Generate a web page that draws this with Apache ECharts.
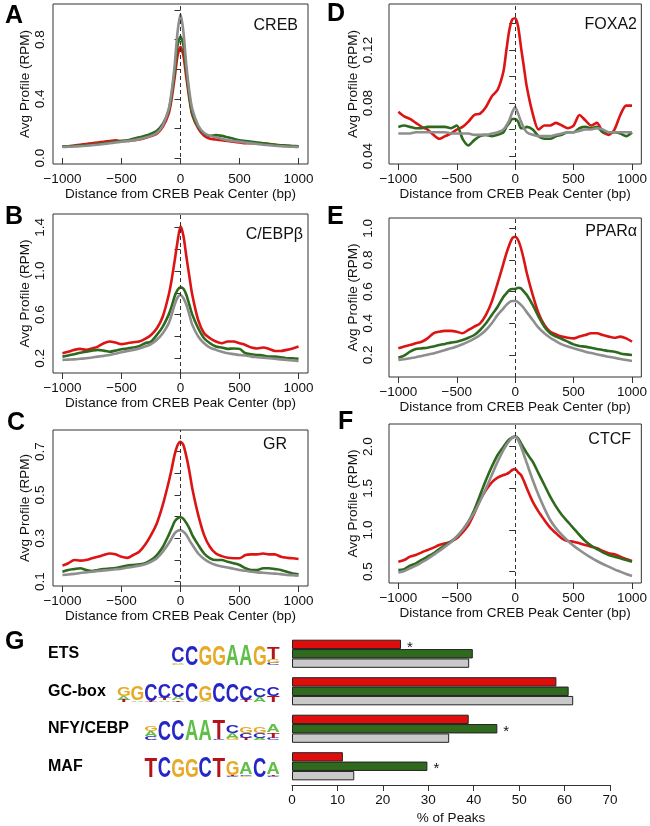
<!DOCTYPE html>
<html><head><meta charset="utf-8">
<script src="https://cdn.jsdelivr.net/npm/echarts@6/dist/echarts.min.js"></script>
<style>html,body{margin:0;padding:0;background:#fff}#c{width:650px;height:826px}</style>
</head><body><div id="c"></div>
<script>
// ---------------- DATA ----------------
const positions = [-1000,-950,-900,-850,-800,-750,-700,-650,-600,-550,-500,-450,-400,-350,-300,-250,-200,-150,-100,-75,-50,-25,0,25,50,75,100,150,200,250,300,350,400,450,500,550,600,650,700,750,800,850,900,950,1000];
const xTicks = [-1000,-500,0,500,1000];

const crebRed   = [0.078,0.08,0.085,0.09,0.095,0.1,0.105,0.11,0.115,0.12,0.115,0.115,0.12,0.125,0.135,0.148,0.165,0.21,0.3,0.4,0.54,0.69,0.75,0.69,0.54,0.4,0.29,0.2,0.15,0.13,0.125,0.12,0.115,0.11,0.105,0.1,0.1,0.1,0.1,0.095,0.09,0.085,0.082,0.08,0.078];
const crebGreen = [0.08,0.08,0.082,0.085,0.088,0.09,0.095,0.1,0.105,0.11,0.115,0.12,0.13,0.14,0.15,0.165,0.185,0.23,0.32,0.43,0.58,0.76,0.82,0.76,0.58,0.42,0.3,0.21,0.165,0.15,0.155,0.15,0.14,0.13,0.12,0.115,0.11,0.105,0.1,0.095,0.09,0.087,0.085,0.082,0.08];
const crebGray  = [0.075,0.076,0.078,0.08,0.083,0.087,0.09,0.095,0.1,0.105,0.11,0.115,0.12,0.128,0.138,0.15,0.17,0.22,0.33,0.45,0.62,0.85,0.97,0.85,0.62,0.45,0.33,0.22,0.17,0.15,0.14,0.13,0.12,0.115,0.11,0.105,0.1,0.095,0.09,0.087,0.083,0.08,0.078,0.076,0.075];
const crebYTicks = [0,0.2,0.4,0.6,0.8,1.0];
const crebYLabels = [0,0.4,0.8];

const cebpRed   = [0.246,0.26,0.277,0.286,0.277,0.29,0.307,0.338,0.353,0.344,0.33,0.338,0.347,0.353,0.378,0.414,0.475,0.583,0.78,0.92,1.09,1.27,1.41,1.32,1.13,0.95,0.78,0.55,0.43,0.384,0.353,0.338,0.353,0.353,0.338,0.322,0.298,0.29,0.298,0.286,0.267,0.267,0.277,0.29,0.307];
const cebpGreen = [0.215,0.226,0.237,0.25,0.26,0.27,0.277,0.27,0.26,0.27,0.283,0.29,0.298,0.31,0.338,0.353,0.414,0.49,0.6,0.675,0.766,0.827,0.85,0.837,0.78,0.69,0.6,0.475,0.384,0.338,0.307,0.298,0.286,0.29,0.286,0.246,0.237,0.23,0.226,0.215,0.215,0.21,0.2,0.2,0.195];
const cebpGray  = [0.185,0.188,0.19,0.195,0.2,0.207,0.215,0.222,0.23,0.242,0.255,0.266,0.277,0.29,0.307,0.33,0.37,0.43,0.52,0.6,0.69,0.757,0.78,0.75,0.69,0.6,0.506,0.4,0.338,0.298,0.277,0.26,0.246,0.238,0.23,0.225,0.215,0.21,0.205,0.2,0.195,0.19,0.185,0.18,0.175];
const cebpYTicks = [0.2,0.4,0.6,0.8,1.0,1.2,1.4];
const cebpYLabels = [0.2,0.6,1.0,1.4];

const grRed   = [0.174,0.185,0.2,0.197,0.2,0.208,0.215,0.223,0.23,0.226,0.215,0.21,0.223,0.238,0.27,0.315,0.37,0.454,0.56,0.62,0.685,0.73,0.746,0.73,0.677,0.61,0.53,0.408,0.315,0.26,0.23,0.218,0.21,0.208,0.208,0.223,0.226,0.226,0.23,0.226,0.226,0.215,0.21,0.208,0.205];
const grGreen = [0.146,0.154,0.158,0.162,0.154,0.149,0.154,0.158,0.16,0.163,0.169,0.174,0.177,0.18,0.185,0.2,0.223,0.26,0.315,0.346,0.377,0.392,0.397,0.39,0.37,0.346,0.315,0.27,0.23,0.208,0.2,0.2,0.192,0.185,0.177,0.162,0.154,0.154,0.162,0.162,0.158,0.154,0.146,0.138,0.134];
const grGray  = [0.131,0.133,0.136,0.14,0.143,0.146,0.149,0.152,0.154,0.157,0.16,0.165,0.169,0.174,0.18,0.192,0.208,0.238,0.277,0.3,0.323,0.334,0.338,0.33,0.315,0.292,0.27,0.23,0.205,0.188,0.177,0.17,0.165,0.16,0.154,0.15,0.146,0.143,0.141,0.139,0.137,0.135,0.131,0.13,0.128];
const grYTicks = [0.1,0.2,0.3,0.4,0.5,0.6,0.7];
const grYLabels = [0.1,0.3,0.5,0.7];

const foxa2Red   = [0.0735,0.07,0.068,0.065,0.062,0.06,0.056,0.053,0.055,0.057,0.06,0.062,0.066,0.071,0.072,0.077,0.085,0.09,0.104,0.12,0.135,0.143,0.144,0.138,0.122,0.107,0.092,0.072,0.06,0.063,0.063,0.065,0.063,0.061,0.063,0.071,0.067,0.063,0.065,0.058,0.056,0.06,0.071,0.078,0.078];
const foxa2Green = [0.062,0.063,0.062,0.061,0.061,0.062,0.062,0.062,0.062,0.061,0.063,0.053,0.048,0.052,0.055,0.056,0.055,0.056,0.058,0.062,0.065,0.068,0.068,0.066,0.061,0.061,0.062,0.06,0.055,0.053,0.053,0.055,0.056,0.058,0.058,0.061,0.062,0.061,0.062,0.058,0.058,0.058,0.057,0.055,0.058];
const foxa2Gray  = [0.057,0.057,0.057,0.058,0.058,0.058,0.058,0.058,0.058,0.057,0.057,0.057,0.057,0.056,0.056,0.056,0.057,0.058,0.06,0.063,0.067,0.073,0.077,0.072,0.066,0.061,0.058,0.056,0.055,0.055,0.055,0.056,0.057,0.058,0.058,0.059,0.06,0.06,0.061,0.06,0.058,0.058,0.058,0.058,0.058];
const foxa2YTicks = [0.04,0.06,0.08,0.10,0.12,0.14];
const foxa2YLabels = [0.04,0.08,0.12];

const pparRed   = [0.242,0.253,0.263,0.274,0.284,0.305,0.337,0.347,0.352,0.352,0.347,0.337,0.358,0.379,0.4,0.453,0.537,0.653,0.779,0.842,0.895,0.937,0.947,0.926,0.874,0.8,0.716,0.579,0.463,0.389,0.347,0.33,0.316,0.309,0.305,0.316,0.326,0.337,0.337,0.326,0.316,0.309,0.316,0.305,0.284];
const pparGreen = [0.183,0.196,0.221,0.238,0.242,0.246,0.253,0.263,0.27,0.278,0.284,0.295,0.309,0.326,0.358,0.4,0.453,0.505,0.568,0.589,0.61,0.617,0.617,0.625,0.621,0.6,0.579,0.516,0.442,0.379,0.337,0.316,0.301,0.284,0.267,0.257,0.253,0.246,0.238,0.232,0.225,0.221,0.21,0.204,0.2];
const pparGray  = [0.168,0.173,0.179,0.186,0.194,0.202,0.21,0.221,0.232,0.242,0.253,0.268,0.284,0.303,0.326,0.358,0.4,0.453,0.495,0.516,0.533,0.541,0.541,0.533,0.516,0.495,0.469,0.421,0.373,0.337,0.309,0.287,0.267,0.253,0.242,0.231,0.221,0.212,0.204,0.196,0.189,0.182,0.175,0.168,0.162];
const pparYTicks = [0.2,0.4,0.6,0.8,1.0];
const pparYLabels = [0.2,0.4,0.6,0.8,1.0];

const ctcfRed   = [0.62,0.64,0.68,0.7,0.732,0.76,0.788,0.82,0.84,0.86,0.9,0.972,1.06,1.2,1.36,1.48,1.572,1.628,1.66,1.67,1.692,1.72,1.732,1.692,1.66,1.588,1.5,1.34,1.22,1.12,1.028,0.96,0.9,0.868,0.86,0.84,0.82,0.8,0.78,0.748,0.72,0.708,0.68,0.652,0.628];
const ctcfGreen = [0.52,0.53,0.572,0.6,0.64,0.68,0.72,0.772,0.82,0.86,0.92,1.0,1.1,1.24,1.42,1.6,1.76,1.9,2.0,2.05,2.088,2.11,2.12,2.1,2.04,1.98,1.92,1.82,1.68,1.54,1.4,1.28,1.18,1.1,1.02,0.94,0.868,0.812,0.772,0.732,0.7,0.68,0.66,0.64,0.62];
const ctcfGray  = [0.49,0.508,0.54,0.572,0.612,0.652,0.7,0.748,0.8,0.852,0.92,1.0,1.1,1.212,1.348,1.5,1.66,1.82,1.96,2.02,2.068,2.108,2.12,2.08,2.0,1.9,1.8,1.6,1.42,1.26,1.12,1.02,0.94,0.872,0.812,0.76,0.712,0.668,0.628,0.592,0.56,0.528,0.5,0.472,0.448];
const ctcfYTicks = [0.5,1.0,1.5,2.0];
const ctcfYLabels = [0.5,1.0,1.5,2.0];

const motifs = ['ETS','GC-box','NFY/CEBP','MAF'];
const pctRed   = [24.0, 58.2, 38.9, 11.2];
const pctGreen = [39.8, 60.9, 45.2, 29.8];
const pctGray  = [39.0, 61.9, 34.6, 13.7];
const starRed   = [true, false, false, false];
const starGreen = [false, false, true, true];
const starGray  = [false, false, false, false];
const pctTicks = [0,10,20,30,40,50,60,70];

// sequence logos: columns, letters bottom -> top with relative heights
const logoETS = [[['G',0.05],['A',0.06],['C',0.72]],[['C',0.85]],[['G',0.88]],[['G',0.9]],[['A',0.95]],[['A',0.95]],[['G',0.88]],[['C',0.1],['G',0.14],['T',0.55]]];
const logoGC  = [[['T',0.1],['A',0.18],['G',0.4]],[['A',0.08],['G',0.62]],[['T',0.06],['C',0.78]],[['A',0.08],['T',0.1],['C',0.62]],[['T',0.08],['A',0.16],['C',0.6]],[['C',0.85]],[['A',0.06],['G',0.7]],[['C',0.85]],[['C',0.82]],[['T',0.1],['C',0.62]],[['A',0.22],['C',0.42]],[['T',0.28],['C',0.4]]];
const logoNFY = [[['C',0.18],['A',0.2],['G',0.25]],[['C',0.9]],[['C',0.92]],[['A',0.95]],[['A',0.95]],[['C',0.05],['T',0.85]],[['G',0.1],['A',0.2],['C',0.35]],[['T',0.1],['C',0.2],['G',0.3]],[['A',0.1],['C',0.2],['G',0.3]],[['C',0.1],['T',0.25],['A',0.35]]];
const logoMAF = [[['T',0.9]],[['C',0.92]],[['G',0.82]],[['G',0.8]],[['C',0.95]],[['T',0.88]],[['C',0.06],['T',0.06],['G',0.65]],[['G',0.06],['C',0.08],['A',0.5]],[['C',0.88]],[['C',0.06],['T',0.08],['A',0.55]]];
const logos = [logoETS, logoGC, logoNFY, logoMAF];

// ---------------- STYLE / LAYOUT ----------------
const FONT = '"Liberation Sans", Arial, Helvetica, sans-serif';
const RED = '#dc1414', GREEN = '#2e6a1e', GRAY = '#8e8e8e';
const BAR_RED = '#e00d0d', BAR_GREEN = '#2f6a1f', BAR_GRAY = '#c9c9c9';
const LETTER_COLORS = {A:'#5fbf48', C:'#2626c6', G:'#e7aa26', T:'#b3141c'};

const panels = [
  {letter:'A', name:'CREB',   grid:{left:53, top:4,   width:255, height:160}, ymin:-0.04, ymax:1.04,   ticks:crebYTicks,  labels:crebYLabels,  dec:1, lm:6,  ng:21, series:[crebRed,crebGreen,crebGray],    nameRight:10, nameY:22, letterPos:[5,16]},
  {letter:'B', name:'C/EBPβ', grid:{left:53, top:214, width:255, height:159}, ymin:0.065, ymax:1.522,  ticks:cebpYTicks,  labels:cebpYLabels,  dec:1, lm:6,  ng:21, series:[cebpRed,cebpGreen,cebpGray],    nameRight:5,  nameY:21, letterPos:[5,217]},
  {letter:'C', name:'GR',     grid:{left:53, top:430, width:255, height:156}, ymin:0.08, ymax:0.80,    ticks:grYTicks,    labels:grYLabels,    dec:1, lm:6,  ng:21, series:[grRed,grGreen,grGray],          nameRight:21, nameY:15, letterPos:[7,423]},
  {letter:'D', name:'FOXA2',  grid:{left:389, top:4,  width:254, height:160}, ymin:0.034, ymax:0.1547, ticks:foxa2YTicks, labels:foxa2YLabels, dec:2, lm:14, ng:20, series:[foxa2Red,foxa2Green,foxa2Gray], nameRight:6,  nameY:21, letterPos:[327,14]},
  {letter:'E', name:'PPARα',  grid:{left:389, top:218, width:254, height:159}, ymin:0.061, ymax:1.065, ticks:pparYTicks,  labels:pparYLabels,  dec:1, lm:14, ng:20, series:[pparRed,pparGreen,pparGray],    nameRight:6,  nameY:14, letterPos:[327,217]},
  {letter:'F', name:'CTCF',   grid:{left:389, top:424, width:254, height:159}, ymin:0.364, ymax:2.272, ticks:ctcfYTicks,  labels:ctcfYLabels,  dec:1, lm:14, ng:20, series:[ctcfRed,ctcfGreen,ctcfGray],    nameRight:12, nameY:16, letterPos:[338,422]}
];

const minus = s => String(s).replace('-', '\u2212');
const grids = [], xAxes = [], yAxes = [], series = [], graphics = [];

panels.forEach((p, i) => {
  grids.push(Object.assign({show:true, borderColor:'#333', borderWidth:1, backgroundColor:'transparent'}, p.grid));
  xAxes.push({
    gridIndex:i, type:'value', min:-1080, max:1080,
    axisLine:{show:false}, splitLine:{show:false},
    axisTick:{show:true, length:6, customValues:xTicks, lineStyle:{color:'#333'}},
    axisLabel:{customValues:xTicks, margin:8, fontSize:13.5, color:'#111', fontFamily:FONT, formatter:v=>minus(v)},
    name:'Distance from CREB Peak Center (bp)', nameLocation:'middle', nameGap:23,
    nameTextStyle:{fontSize:13.5, color:'#111', fontFamily:FONT}
  });
  yAxes.push({
    gridIndex:i, type:'value', min:p.ymin, max:p.ymax,
    axisLine:{show:false}, splitLine:{show:false},
    axisTick:{show:true, length:6, customValues:p.ticks, lineStyle:{color:'#333'}},
    axisLabel:{customValues:p.labels, rotate:90, margin:p.lm, fontSize:13.5, color:'#111', fontFamily:FONT, formatter:v=>Number(v).toFixed(p.dec)},
    name:'Avg Profile (RPM)', nameLocation:'middle', nameGap:p.ng,
    nameTextStyle:{fontSize:13.5, color:'#111', fontFamily:FONT}
  });
  const cols = [RED, GREEN, GRAY];
  p.series.forEach((arr, k) => {
    const s = {
      type:'line', xAxisIndex:i, yAxisIndex:i, showSymbol:false, symbol:'none', smooth:0.25,
      data: positions.map((x, j) => [x, arr[j]]),
      lineStyle:{color:cols[k], width:2.6}, z:2+k, animation:false
    };
    if (k === 2) s.markLine = {silent:true, symbol:'none', label:{show:false}, animation:false,
      lineStyle:{color:'#333', type:[4,3], width:1}, data:[{xAxis:0}]};
    series.push(s);
  });
  // panel letter
  graphics.push({type:'text', x:p.letterPos[0], y:p.letterPos[1], style:{text:p.letter, font:'bold 25px '+FONT, fill:'#000', textAlign:'left', textVerticalAlign:'middle'}});
  // panel protein name
  graphics.push({type:'text', x:p.grid.left + p.grid.width - p.nameRight, y:p.grid.top + p.nameY,
    style:{text:p.name, font:'16px '+FONT, fill:'#111', textAlign:'right', textVerticalAlign:'middle'}});
});

// bar panel G
const gi = panels.length;
grids.push({left:292, top:635, width:318, height:150, show:false});
xAxes.push({
  gridIndex:gi, type:'value', min:0, max:70, interval:10,
  axisLine:{show:true, lineStyle:{color:'#333'}}, splitLine:{show:false},
  axisTick:{show:true, length:6, customValues:pctTicks, lineStyle:{color:'#333'}},
  axisLabel:{customValues:pctTicks, margin:8, fontSize:13.5, color:'#111', fontFamily:FONT},
  name:'% of Peaks', nameLocation:'middle', nameGap:26, nameTextStyle:{fontSize:13.5, color:'#111', fontFamily:FONT}
});
yAxes.push({
  gridIndex:gi, type:'category', data:motifs, inverse:true,
  axisLine:{show:false}, axisTick:{show:false}, splitLine:{show:false},
  axisLabel:{align:'left', margin:244, fontSize:16, fontWeight:'bold', color:'#000', fontFamily:FONT}
});
function barData(vals, stars) {
  return vals.map((v, i) => stars[i]
    ? {value:v, label:{show:true, position:'right', distance:6, formatter:'*', fontSize:15, color:'#111', fontFamily:FONT, offset:[0,3]}}
    : v);
}
[[pctRed, starRed, BAR_RED],[pctGreen, starGreen, BAR_GREEN],[pctGray, starGray, BAR_GRAY]].forEach(([vals, stars, col]) => {
  series.push({type:'bar', xAxisIndex:gi, yAxisIndex:gi, data:barData(vals, stars), barGap:'0%', barCategoryGap:'25%',
    itemStyle:{color:col, borderColor:'#222', borderWidth:1}, animation:false});
});
graphics.push({type:'text', x:5, y:642, style:{text:'G', font:'bold 25px '+FONT, fill:'#000', textAlign:'left', textVerticalAlign:'middle'}});

const chart = echarts.init(document.getElementById('c'), null, {renderer:'canvas'});
chart.setOption({animation:false, grid:grids, xAxis:xAxes, yAxis:yAxes, series:series, graphic:graphics});

// sequence logos, anchored to the bar chart's category positions
const mcv = document.createElement('canvas').getContext('2d');
function glyphMetrics(letter) {
  mcv.font = 'bold 40px ' + FONT;
  mcv.textBaseline = 'middle'; mcv.textAlign = 'center';
  const m = mcv.measureText(letter);
  return {asc:m.actualBoundingBoxAscent, desc:m.actualBoundingBoxDescent, left:m.actualBoundingBoxLeft, right:m.actualBoundingBoxRight};
}
const x0 = chart.convertToPixel({xAxisIndex:gi}, 0);
const logoRight = x0 - 12, colW = 13.6, unitH = 22;
motifs.forEach((m, r) => {
  const yc = chart.convertToPixel({yAxisIndex:gi}, m);
  const base = yc + 11;
  const cols = logos[r];
  const startX = logoRight - cols.length * colW;
  cols.forEach((col, c) => {
    let yb = base;
    const cx = startX + (c + 0.5) * colW;
    col.forEach(([L, h]) => {
      const hp = h * unitH;
      const g = glyphMetrics(L);
      const sy = hp / (g.asc + g.desc);
      const sx = (colW - 1.2) / (g.left + g.right);
      graphics.push({type:'text', x: cx - sx * (g.right - g.left) / 2, y: yb - sy * g.desc, scaleX:sx, scaleY:sy,
        style:{text:L, font:'bold 40px ' + FONT, fill:LETTER_COLORS[L], textAlign:'center', textVerticalAlign:'middle'}});
      yb -= hp;
    });
  });
});
chart.setOption({graphic:graphics});
</script>
</body></html>
